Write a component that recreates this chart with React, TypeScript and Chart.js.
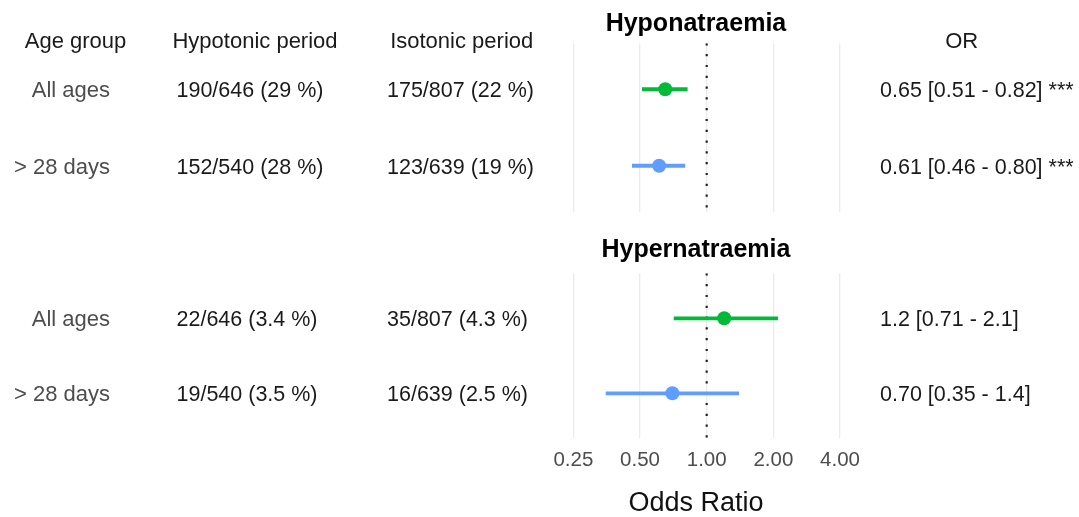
import React, { useEffect, useRef } from 'react';
import { Chart, registerables } from 'chart.js';

Chart.register(...registerables);

// ---------------- data ----------------
const ageGroups = ['All ages', '> 28 days'];
const groupColors = ['#00BA38', '#619CFF'];

const hypoTitle = 'Hyponatraemia';
const hypoHypotonic = ['190/646 (29 %)', '152/540 (28 %)'];
const hypoIsotonic = ['175/807 (22 %)', '123/639 (19 %)'];
const hypoOR = [0.65, 0.61];
const hypoLow = [0.51, 0.46];
const hypoHigh = [0.82, 0.8];
const hypoORText = ['0.65 [0.51 - 0.82] ***', '0.61 [0.46 - 0.80] ***'];

const hyperTitle = 'Hypernatraemia';
const hyperHypotonic = ['22/646 (3.4 %)', '19/540 (3.5 %)'];
const hyperIsotonic = ['35/807 (4.3 %)', '16/639 (2.5 %)'];
const hyperOR = [1.2, 0.7];
const hyperLow = [0.71, 0.35];
const hyperHigh = [2.1, 1.4];
const hyperORText = ['1.2 [0.71 - 2.1]', '0.70 [0.35 - 1.4]'];

const headers = ['Age group', 'Hypotonic period', 'Isotonic period', 'OR'];
const xTicks = [0.25, 0.5, 1, 2, 4];
const refValue = [1];
const axisTitle = 'Odds Ratio';

// ---------------- layout ----------------
const FONT = '"Liberation Sans", Arial, Helvetica, sans-serif';
const W = 1079;
const X_MIN = 0.1722;
const X_MAX = 4.646;
const Y_MIN = 0.4;
const Y_MAX = 2.6;
const AREA_LEFT = 537.5;
const AREA_RIGHT_PAD = W - 854.4;
const AGE_RIGHT = 110;
const AGE_PAD = 2;
const COL_HYPOTONIC = 176.5;
const COL_ISOTONIC = 387;
const COL_OR = 880;
const HEADER_X = [75.5, 255, 461.7, 961.7];
const HEADER_BASELINE = 47.8;

type Panel = {
  title: string;
  hypotonic: string[];
  isotonic: string[];
  or: number[];
  low: number[];
  high: number[];
  orText: string[];
};

const panels: Panel[] = [
  { title: hypoTitle, hypotonic: hypoHypotonic, isotonic: hypoIsotonic, or: hypoOR, low: hypoLow, high: hypoHigh, orText: hypoORText },
  { title: hyperTitle, hypotonic: hyperHypotonic, isotonic: hyperIsotonic, or: hyperOR, low: hyperLow, high: hyperHigh, orText: hyperORText },
];

type Geo = { height: number; padTop: number; padBottom: number; axisH: number; showAxis: boolean; titleBaseline: number; showHeaders: boolean };

const geos: Geo[] = [
  { height: 230, padTop: 43.3, padBottom: 18.3, axisH: 0, showAxis: false, titleBaseline: 30.7, showHeaders: true },
  { height: 292, padTop: 48.3, padBottom: 0, axisH: 78.7, showAxis: true, titleBaseline: 31.6, showHeaders: false },
];

function makeChart(canvas: HTMLCanvasElement, p: Panel, g: Geo) {
  const datasets: any[] = [];
  datasets.push({
    type: 'line',
    data: [
      { x: refValue[0], y: Y_MIN },
      { x: refValue[0], y: Y_MAX },
    ],
    borderColor: '#222222',
    borderWidth: 2.2,
    borderDash: [2.2, 8.6],
    pointRadius: 0,
    order: 5,
  });
  p.or.forEach((_, i) => {
    datasets.push({
      type: 'line',
      data: [
        { x: p.low[i], y: i + 1 },
        { x: p.high[i], y: i + 1 },
      ],
      borderColor: groupColors[i],
      borderWidth: 3.8,
      borderCapStyle: 'butt',
      pointRadius: 0,
      order: 3,
    });
  });
  datasets.push({
    type: 'scatter',
    data: p.or.map((v, i) => ({ x: v, y: i + 1 })),
    backgroundColor: groupColors,
    pointRadius: 7,
    pointBorderWidth: 0,
    borderWidth: 0,
    order: 1,
  });

  const textPlugin = {
    id: 'textColumns',
    afterDraw(chart: any) {
      const ctx = chart.ctx;
      const yScale = chart.scales.y;
      const area = chart.chartArea;
      ctx.save();
      ctx.textBaseline = 'alphabetic';
      ctx.fillStyle = '#000000';
      ctx.font = `bold 25px ${FONT}`;
      ctx.textAlign = 'center';
      ctx.fillText(p.title, (area.left + area.right) / 2, g.titleBaseline);
      if (g.showHeaders) {
        ctx.font = `22px ${FONT}`;
        ctx.fillStyle = '#1A1A1A';
        ctx.textAlign = 'center';
        headers.forEach((h, i) => ctx.fillText(h, HEADER_X[i], HEADER_BASELINE));
      }
      ctx.font = `21.5px ${FONT}`;
      ctx.fillStyle = '#1A1A1A';
      ctx.textAlign = 'left';
      p.or.forEach((_, i) => {
        const y = yScale.getPixelForValue(i + 1) + 7.8;
        ctx.fillText(p.hypotonic[i], COL_HYPOTONIC, y);
        ctx.fillText(p.isotonic[i], COL_ISOTONIC, y);
        ctx.fillText(p.orText[i], COL_OR, y);
      });
      ctx.restore();
    },
  };

  return new Chart(canvas, {
    type: 'scatter',
    data: { datasets },
    plugins: [textPlugin],
    options: {
      animation: false,
      responsive: false,
      maintainAspectRatio: false,
      events: [],
      layout: { padding: { left: 0, right: AREA_RIGHT_PAD, top: g.padTop, bottom: g.padBottom } },
      plugins: { legend: { display: false }, tooltip: { enabled: false }, title: { display: false } },
      scales: {
        x: {
          type: 'logarithmic',
          min: X_MIN,
          max: X_MAX,
          afterBuildTicks: (s: any) => {
            s.ticks = xTicks.map((v) => ({ value: v }));
          },
          afterFit: (s: any) => {
            s.height = g.axisH;
          },
          grid: { color: '#EBEBEB', lineWidth: 1.3, drawTicks: false },
          border: { display: false },
          ticks: {
            display: g.showAxis,
            autoSkip: false,
            maxRotation: 0,
            padding: 10,
            color: '#4D4D4D',
            font: { family: FONT, size: 20.5 },
            callback: (v: any) => Number(v).toFixed(2),
          },
          title: {
            display: g.showAxis,
            text: axisTitle,
            color: '#111111',
            font: { family: FONT, size: 27, lineHeight: 1.0 },
            padding: { top: 0, bottom: 0 },
          },
        },
        y: {
          type: 'linear',
          position: 'left',
          weight: 2,
          reverse: true,
          min: Y_MIN,
          max: Y_MAX,
          afterBuildTicks: (s: any) => {
            s.ticks = ageGroups.map((_, i) => ({ value: i + 1 }));
          },
          afterFit: (s: any) => {
            s.width = AGE_RIGHT + AGE_PAD;
          },
          grid: { display: false, drawTicks: false },
          border: { display: false },
          ticks: {
            autoSkip: false,
            padding: AGE_PAD,
            labelOffset: 1.8,
            color: '#4D4D4D',
            font: { family: FONT, size: 22 },
            callback: (v: any) => ageGroups[Math.round(Number(v)) - 1] ?? '',
          },
        },
        ySpacer: {
          type: 'linear',
          position: 'left',
          weight: 1,
          display: true,
          min: 0,
          max: 1,
          afterFit: (s: any) => {
            s.width = AREA_LEFT - AGE_RIGHT - AGE_PAD;
          },
          grid: { display: false, drawTicks: false },
          border: { display: false },
          ticks: { display: false },
        },
      },
    } as any,
  });
}

export default function App() {
  const topRef = useRef<HTMLCanvasElement>(null);
  const bottomRef = useRef<HTMLCanvasElement>(null);

  useEffect(() => {
    const charts: Chart[] = [];
    if (topRef.current) charts.push(makeChart(topRef.current, panels[0], geos[0]));
    if (bottomRef.current) charts.push(makeChart(bottomRef.current, panels[1], geos[1]));
    return () => charts.forEach((c) => c.destroy());
  }, []);

  return (
    <div style={{ position: 'absolute', left: 0, top: 0, width: W, height: 517, background: '#ffffff', overflow: 'hidden' }}>
      <canvas ref={topRef} width={W} height={geos[0].height} style={{ position: 'absolute', left: 0, top: 0, width: W, height: geos[0].height }} />
      <canvas ref={bottomRef} width={W} height={geos[1].height} style={{ position: 'absolute', left: 0, top: 225, width: W, height: geos[1].height }} />
    </div>
  );
}
